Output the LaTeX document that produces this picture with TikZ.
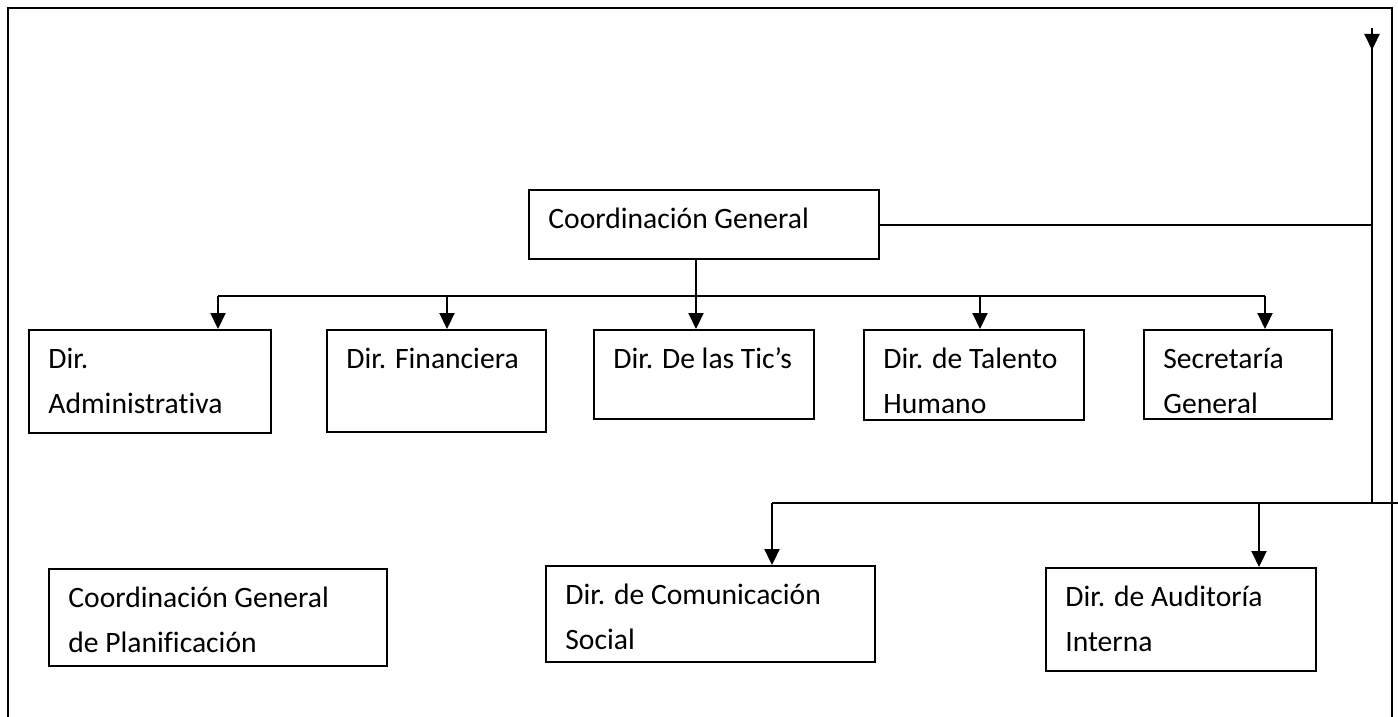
\documentclass[tikz,border=0pt]{standalone}
\usepackage{fontspec}
\setmainfont[Ligatures={NoCommon,NoContextual},Contextuals=NoAlternate]{Carlito}
\usetikzlibrary{arrows.meta}
\tikzset{
	unidad/.style={draw, line width=1.1pt, anchor=north west, inner sep=0pt},
	rotulo/.style={anchor=north west, inner sep=0pt, align=left, font=\fontsize{14.8}{22.5}\selectfont},
	flecha/.style={line width=1.1pt, -{Triangle[width=7.5pt,length=8pt]}},
	linea/.style={line width=1pt}
}
\begin{document}
\begin{tikzpicture}[x=0.5pt,y=-0.5pt]
				\useasboundingbox (0,0) rectangle (1398,717);
				\draw[line width=1.3pt] (8,717) -- (8,8) -- (1392,8) -- (1392,717);
				\foreach \nom/\px/\py/\an/\al/\txt in {coord/528/189/350/69/{Coordinación General},
					adm/28/329/242/103/{Dir.\\Administrat\kern0pt iva}, fin/326/329/219/102/{Dir. Financiera},
					tic/593/329/220/89/{Dir. De las Tic’s}, tal/863/329/220/90/{Dir. de Talento\\Humano},
					sec/1143/329/188/89/{Secretaría\\General}, plan/48/568/338/97/{Coordinación General\\de Planif\kern0pt icación},
					com/545/565/329/96/{Dir. de Comunicación\\Social}, aud/1045/567/270/103/{Dir. de Auditoría\\Interna}}
				{
					\node[unidad, minimum width=\an*0.5pt, minimum height=\al*0.5pt] (\nom) at (\px,\py) {};
					\node[rotulo] (\nom-t) at ([shift={(20,8)}]\nom.north west) {\strut\txt};
				}
				\coordinate (b1) at (218,296);
				\coordinate (b2) at (447,296);
				\coordinate (b3) at (696,296);
				\coordinate (b4) at (980,296);
				\coordinate (b5) at (1265,296);
				\draw[linea] (b1) -- (b5);
				\draw[flecha] (coord.south -| b3) -- (b3 |- tic.north);
				\draw[flecha] (b1) -- (b1 |- adm.north);
				\draw[flecha] (b2) -- (b2 |- fin.north);
				\draw[flecha] (b4) -- (b4 |- tal.north);
				\draw[flecha] (b5) -- (b5 |- sec.north);
				\coordinate (arriba) at (1372,28);
				\coordinate (c1) at (772,503);
				\coordinate (c2) at (1259,503);
				\coordinate (c3) at (1398,503);
				\draw[flecha] (arriba) -- ++(0,22);
				\draw[linea] (arriba) -- (arriba |- c1);
				\draw[linea] (coord.east) -- (coord.east -| arriba);
				\draw[linea] (c1) -- (c3);
				\draw[flecha] (c1) -- (c1 |- com.north);
				\draw[flecha] (c2) -- (c2 |- aud.north);
\end{tikzpicture}
\end{document}
